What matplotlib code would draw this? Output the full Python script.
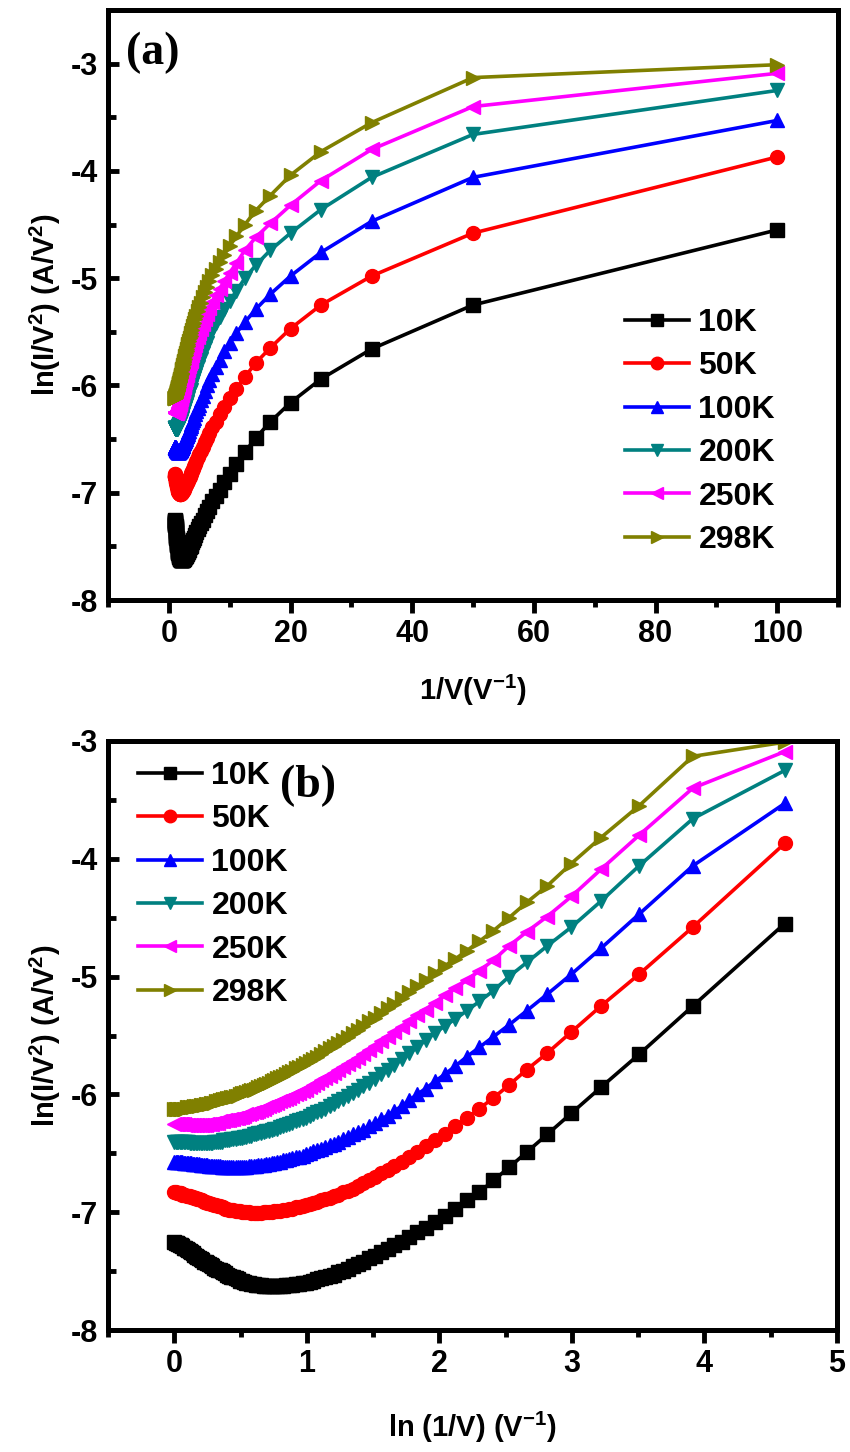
import numpy as np
import matplotlib

matplotlib.use("Agg")
import matplotlib.pyplot as plt
from matplotlib.ticker import MultipleLocator

# bias sweep 0.01 ... 1.00 V (100 steps), values below are in the same order
bias_v = np.arange(1, 101) / 100.0

labels = ["10K", "50K", "100K", "200K", "250K", "298K"]

y_10k = [-4.55, -5.25, -5.66, -5.94, -6.16, -6.34, -6.49, -6.62, -6.73, -6.83,
         -6.90, -6.97, -7.03, -7.08, -7.13, -7.17, -7.21, -7.25, -7.28, -7.31,
         -7.34, -7.37, -7.39, -7.42, -7.44, -7.46, -7.48, -7.50, -7.51, -7.53,
         -7.54, -7.55, -7.56, -7.57, -7.58, -7.59, -7.60, -7.60, -7.61, -7.61,
         -7.62, -7.62, -7.62, -7.63, -7.63, -7.63, -7.63, -7.63, -7.63, -7.63,
         -7.63, -7.62, -7.62, -7.62, -7.61, -7.61, -7.60, -7.60, -7.59, -7.58,
         -7.58, -7.57, -7.56, -7.55, -7.55, -7.54, -7.53, -7.52, -7.51, -7.50,
         -7.49, -7.49, -7.48, -7.47, -7.46, -7.45, -7.44, -7.43, -7.42, -7.42,
         -7.41, -7.40, -7.39, -7.38, -7.37, -7.36, -7.35, -7.34, -7.33, -7.32,
         -7.31, -7.30, -7.30, -7.29, -7.28, -7.28, -7.27, -7.26, -7.26, -7.25]

y_50k = [-3.87, -4.58, -4.98, -5.25, -5.47, -5.65, -5.79, -5.92, -6.03, -6.12,
         -6.20, -6.27, -6.34, -6.39, -6.44, -6.49, -6.53, -6.57, -6.61, -6.64,
         -6.67, -6.70, -6.73, -6.75, -6.78, -6.80, -6.82, -6.83, -6.85, -6.86,
         -6.88, -6.89, -6.90, -6.91, -6.92, -6.93, -6.94, -6.95, -6.96, -6.96,
         -6.97, -6.97, -6.98, -6.98, -6.99, -6.99, -6.99, -7.00, -7.00, -7.00,
         -7.00, -7.01, -7.01, -7.01, -7.01, -7.01, -7.00, -7.00, -7.00, -7.00,
         -6.99, -6.99, -6.99, -6.98, -6.98, -6.98, -6.97, -6.97, -6.96, -6.96,
         -6.95, -6.95, -6.94, -6.94, -6.93, -6.93, -6.92, -6.92, -6.91, -6.91,
         -6.90, -6.90, -6.89, -6.89, -6.88, -6.88, -6.87, -6.87, -6.86, -6.86,
         -6.86, -6.85, -6.85, -6.85, -6.84, -6.84, -6.84, -6.84, -6.83, -6.83]

y_100k = [-3.53, -4.06, -4.47, -4.76, -4.98, -5.15, -5.29, -5.41, -5.51, -5.60,
          -5.68, -5.76, -5.83, -5.89, -5.95, -6.00, -6.05, -6.10, -6.14, -6.18,
          -6.21, -6.24, -6.27, -6.30, -6.32, -6.34, -6.36, -6.38, -6.40, -6.42,
          -6.43, -6.45, -6.46, -6.47, -6.48, -6.50, -6.51, -6.52, -6.53, -6.53,
          -6.54, -6.55, -6.56, -6.56, -6.57, -6.57, -6.58, -6.58, -6.59, -6.59,
          -6.60, -6.60, -6.60, -6.61, -6.61, -6.61, -6.61, -6.62, -6.62, -6.62,
          -6.62, -6.62, -6.62, -6.62, -6.62, -6.62, -6.62, -6.62, -6.62, -6.62,
          -6.61, -6.61, -6.61, -6.61, -6.61, -6.61, -6.61, -6.60, -6.60, -6.60,
          -6.60, -6.60, -6.59, -6.59, -6.59, -6.59, -6.59, -6.58, -6.58, -6.58,
          -6.58, -6.58, -6.58, -6.57, -6.57, -6.57, -6.57, -6.57, -6.57, -6.57]

y_200k = [-3.25, -3.66, -4.06, -4.36, -4.58, -4.74, -4.88, -5.00, -5.12, -5.21,
          -5.29, -5.36, -5.42, -5.48, -5.54, -5.60, -5.65, -5.70, -5.75, -5.79,
          -5.83, -5.87, -5.90, -5.93, -5.96, -5.99, -6.01, -6.04, -6.06, -6.08,
          -6.10, -6.12, -6.14, -6.15, -6.17, -6.18, -6.20, -6.21, -6.22, -6.23,
          -6.24, -6.25, -6.26, -6.27, -6.28, -6.29, -6.29, -6.30, -6.31, -6.31,
          -6.32, -6.33, -6.33, -6.34, -6.34, -6.35, -6.35, -6.36, -6.36, -6.37,
          -6.37, -6.37, -6.38, -6.38, -6.38, -6.39, -6.39, -6.39, -6.39, -6.40,
          -6.40, -6.40, -6.40, -6.40, -6.41, -6.41, -6.41, -6.41, -6.41, -6.41,
          -6.41, -6.41, -6.41, -6.41, -6.41, -6.41, -6.41, -6.41, -6.41, -6.40,
          -6.40, -6.40, -6.40, -6.40, -6.40, -6.40, -6.40, -6.40, -6.40, -6.40]

y_250k = [-3.09, -3.40, -3.80, -4.09, -4.32, -4.49, -4.62, -4.74, -4.86, -4.95,
          -5.03, -5.10, -5.16, -5.22, -5.28, -5.33, -5.38, -5.43, -5.47, -5.51,
          -5.55, -5.59, -5.62, -5.66, -5.69, -5.72, -5.74, -5.77, -5.79, -5.82,
          -5.84, -5.86, -5.88, -5.90, -5.92, -5.94, -5.96, -5.97, -5.99, -6.00,
          -6.01, -6.03, -6.04, -6.05, -6.06, -6.07, -6.08, -6.09, -6.10, -6.11,
          -6.12, -6.13, -6.14, -6.15, -6.15, -6.16, -6.17, -6.17, -6.18, -6.19,
          -6.19, -6.20, -6.20, -6.21, -6.21, -6.22, -6.22, -6.22, -6.23, -6.23,
          -6.23, -6.24, -6.24, -6.24, -6.25, -6.25, -6.25, -6.25, -6.26, -6.26,
          -6.26, -6.26, -6.26, -6.26, -6.26, -6.26, -6.26, -6.26, -6.26, -6.26,
          -6.26, -6.26, -6.25, -6.25, -6.25, -6.25, -6.25, -6.25, -6.25, -6.25]

y_298k = [-3.01, -3.13, -3.55, -3.82, -4.04, -4.23, -4.37, -4.50, -4.61, -4.70,
          -4.78, -4.85, -4.91, -4.97, -5.03, -5.08, -5.13, -5.18, -5.23, -5.27,
          -5.31, -5.35, -5.38, -5.42, -5.45, -5.48, -5.51, -5.54, -5.56, -5.59,
          -5.61, -5.63, -5.66, -5.68, -5.70, -5.72, -5.73, -5.75, -5.77, -5.78,
          -5.80, -5.81, -5.83, -5.84, -5.85, -5.86, -5.88, -5.89, -5.90, -5.91,
          -5.92, -5.93, -5.94, -5.95, -5.96, -5.96, -5.97, -5.98, -5.99, -5.99,
          -6.00, -6.01, -6.01, -6.02, -6.02, -6.03, -6.03, -6.04, -6.04, -6.05,
          -6.05, -6.06, -6.06, -6.07, -6.07, -6.07, -6.08, -6.08, -6.08, -6.09,
          -6.09, -6.09, -6.10, -6.10, -6.10, -6.10, -6.11, -6.11, -6.11, -6.11,
          -6.11, -6.12, -6.12, -6.12, -6.12, -6.12, -6.12, -6.12, -6.12, -6.12]

series = [y_10k, y_50k, y_100k, y_200k, y_250k, y_298k]
colors = ["#000000", "#ff0000", "#0000ff", "#008080", "#ff00ff", "#808000"]
markers = ["s", "o", "^", "v", "<", ">"]

plt.rcParams["font.family"] = ["Liberation Sans", "DejaVu Sans"]
plt.rcParams["font.weight"] = "bold"
plt.rcParams["axes.unicode_minus"] = False
plt.rcParams["mathtext.fontset"] = "custom"
plt.rcParams["mathtext.rm"] = "Liberation Sans:bold"
plt.rcParams["mathtext.default"] = "rm"

W, H = 850, 1452
fig = plt.figure(figsize=(W / 100, H / 100), dpi=100)


def px_axes(left, top, right, bottom):
    return fig.add_axes([left / W, 1 - bottom / H, (right - left) / W, (bottom - top) / H])


def style_axes(ax):
    for sp in ax.spines.values():
        sp.set_linewidth(3.6)
    ax.tick_params(axis="x", which="both", direction="out", width=3.5, labelsize=22, pad=5)
    ax.tick_params(axis="x", which="major", length=9)
    ax.tick_params(axis="x", which="minor", length=5)
    ax.tick_params(axis="y", which="both", direction="in", width=3.5, labelsize=22, pad=7)
    ax.tick_params(axis="y", which="major", length=8)
    ax.tick_params(axis="y", which="minor", length=6)
    ax.tick_params(top=False, right=False, which="both")
    ax.set_ylabel(r"ln(I/V$^2$) (A/V$^2$)", fontsize=21, fontweight="bold", labelpad=6)


def draw(ax, x):
    for ys, c, m, lab in zip(series, colors, markers, labels):
        ax.plot(x, ys, color=c, marker=m, ms=10, lw=2.6, label=lab)


def add_legend(ax, x_px, top_px):
    ax.legend(loc="upper left", bbox_to_anchor=(x_px / W, 1 - top_px / H),
              bbox_transform=fig.transFigure, frameon=False, fontsize=23,
              handlelength=2.0, handletextpad=0.3, labelspacing=0.42,
              borderpad=0, borderaxespad=0, markerscale=0.9)


inv_v = 1.0 / bias_v
ln_inv_v = np.log(inv_v)

# ---- (a) ln(I/V^2) vs 1/V
ax1 = px_axes(108, 10, 838, 600)
draw(ax1, inv_v)
ax1.set_xlim(-10, 110)
ax1.set_ylim(-8, -2.5)
ax1.xaxis.set_major_locator(MultipleLocator(20))
ax1.xaxis.set_minor_locator(MultipleLocator(10))
ax1.yaxis.set_major_locator(MultipleLocator(1))
ax1.yaxis.set_minor_locator(MultipleLocator(0.5))
style_axes(ax1)
ax1.set_xlabel(r"1/V(V$^{-1}$)", fontsize=21, fontweight="bold", labelpad=17)
fig.text(126 / W, 1 - 53 / H, "(a)", fontsize=33, fontweight="bold",
         family="Liberation Serif", va="center", ha="left")
add_legend(ax1, 625, 308)

# ---- (b) ln(I/V^2) vs ln(1/V)
ax2 = px_axes(108, 741, 837, 1330)
draw(ax2, ln_inv_v)
ax2.set_xlim(-0.5, 5)
ax2.set_ylim(-8, -3)
ax2.xaxis.set_major_locator(MultipleLocator(1))
ax2.xaxis.set_minor_locator(MultipleLocator(0.5))
ax2.yaxis.set_major_locator(MultipleLocator(1))
ax2.yaxis.set_minor_locator(MultipleLocator(0.5))
style_axes(ax2)
ax2.set_xlabel(r"ln (1/V) (V$^{-1}$)", fontsize=21, fontweight="bold", labelpad=22)
fig.text(280 / W, 1 - 786 / H, "(b)", fontsize=33, fontweight="bold",
         family="Liberation Serif", va="center", ha="left")
add_legend(ax2, 138, 761)

fig.savefig("out.png", dpi=100)
